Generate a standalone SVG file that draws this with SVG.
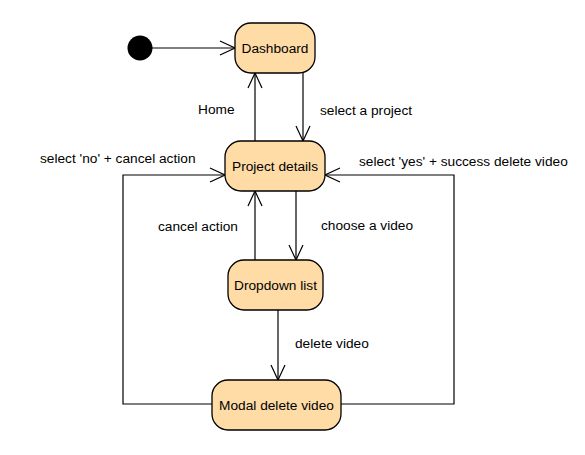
<svg xmlns="http://www.w3.org/2000/svg" width="585" height="455" viewBox="0 0 585 455">
<style>
.node rect{fill:#FFDBA6;stroke:#000;stroke-width:1.3}
.node text{font-family:"Liberation Sans",Arial,sans-serif;font-size:13.7px;fill:#000;text-anchor:middle}
.lbl{font-family:"Liberation Sans",Arial,sans-serif;font-size:13.7px;fill:#000}
.edge{fill:none;stroke:#000;stroke-width:1.2;marker-end:url(#arr)}
</style>
<defs>
<marker id="arr" markerUnits="userSpaceOnUse" markerWidth="17" markerHeight="16" viewBox="0 0 17 16" refX="16" refY="8" orient="auto">
<path d="M1,1 L16,8 L1,15" fill="none" stroke="#000" stroke-width="1.2"/>
</marker>
</defs>
<rect width="585" height="455" fill="#fff"/>
<g id="connectors">
<path class="edge" d="M152,48 L235,48"/>
<path class="edge" d="M255,141 L255,73"/>
<path class="edge" d="M303,73 L303,141"/>
<path class="edge" d="M255,260 L255,191"/>
<path class="edge" d="M296,191 L296,260"/>
<path class="edge" d="M278,310 L278,380"/>
<path class="edge" d="M212,404 L123,404 L123,175 L225,175"/>
<path class="edge" d="M341,404 L454,404 L454,175 L325,175"/>
<text class="lbl" x="198" y="114">Home</text>
<text class="lbl" x="320" y="115">select a project</text>
<text class="lbl" x="40" y="163">select 'no' + cancel action</text>
<text class="lbl" x="359" y="166">select 'yes' + success delete video</text>
<text class="lbl" x="158" y="231">cancel action</text>
<text class="lbl" x="321" y="230">choose a video</text>
<text class="lbl" x="295" y="348">delete video</text>
</g>
<g id="initial"><circle cx="140" cy="48" r="12.5" fill="#000"/></g>
<g id="dashboard" class="node"><rect x="235" y="23" width="80" height="50" rx="16"/><text x="275" y="53">Dashboard</text></g>
<g id="project-details" class="node"><rect x="225" y="141" width="100" height="50" rx="16"/><text x="275" y="171">Project details</text></g>
<g id="dropdown-list" class="node"><rect x="228" y="260" width="95" height="50" rx="16"/><text x="275.5" y="290">Dropdown list</text></g>
<g id="modal-delete-video" class="node"><rect x="212" y="380" width="129" height="50" rx="16"/><text x="276.5" y="410">Modal delete video</text></g>
</svg>
